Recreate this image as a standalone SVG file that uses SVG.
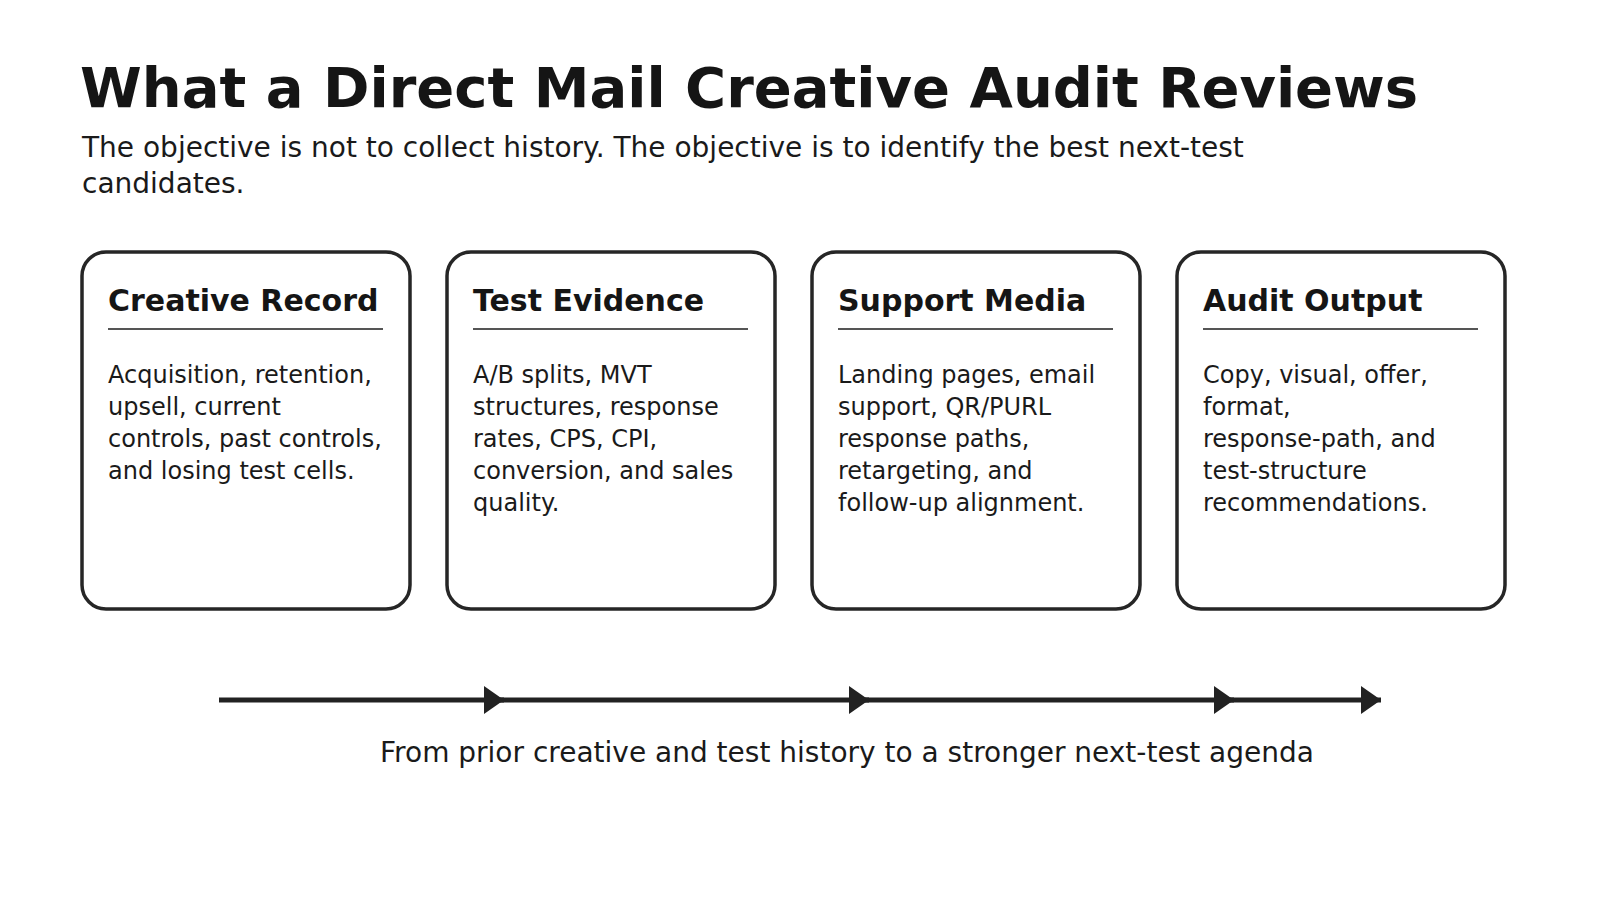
<svg xmlns="http://www.w3.org/2000/svg" width="1600" height="900" viewBox="0 0 1600 900">
<defs>
<style>
.title{font-family:"DejaVu Sans",sans-serif;font-weight:bold;font-size:56px;fill:#151515}
.sub{font-family:"DejaVu Sans",sans-serif;font-size:28px;fill:#1a1a1a}
.card{fill:#fff;stroke:#262626;stroke-width:3.5}
.head{font-family:"DejaVu Sans",sans-serif;font-weight:bold;font-size:30px;fill:#151515}
.rule{stroke:#555;stroke-width:2}
.body{font-family:"DejaVu Sans",sans-serif;font-size:24px;fill:#1a1a1a}
.conn{stroke:#222;stroke-width:5;fill:none}
.label{font-family:"DejaVu Sans",sans-serif;font-size:28px;fill:#1a1a1a}
</style>
<marker id="arr" viewBox="0 0 20 28" refX="20" refY="14" markerWidth="20" markerHeight="28" markerUnits="userSpaceOnUse" orient="auto">
<path d="M0,0 L20,14 L0,28 Z" fill="#222"/>
</marker>
</defs>
<rect width="1600" height="900" fill="#fff"/>
<text class="title" x="80" y="107">What a Direct Mail Creative Audit Reviews</text>
<text class="sub" x="82" y="157">The objective is not to collect history. The objective is to identify the best next-test</text>
<text class="sub" x="82" y="193">candidates.</text>

<g id="creative-record">
<rect class="card" x="82" y="252" width="328" height="357" rx="24"/>
<text class="head" x="108" y="311">Creative Record</text>
<line class="rule" x1="108" y1="329" x2="383" y2="329"/>
<text class="body" x="108" y="383"><tspan x="108">Acquisition, retention,</tspan><tspan x="108" dy="32">upsell, current</tspan><tspan x="108" dy="32">controls, past controls,</tspan><tspan x="108" dy="32">and losing test cells.</tspan></text>
</g>
<g id="test-evidence">
<rect class="card" x="447" y="252" width="328" height="357" rx="24"/>
<text class="head" x="473" y="311">Test Evidence</text>
<line class="rule" x1="473" y1="329" x2="748" y2="329"/>
<text class="body" x="473" y="383"><tspan x="473">A/B splits, MVT</tspan><tspan x="473" dy="32">structures, response</tspan><tspan x="473" dy="32">rates, CPS, CPI,</tspan><tspan x="473" dy="32">conversion, and sales</tspan><tspan x="473" dy="32">quality.</tspan></text>
</g>
<g id="support-media">
<rect class="card" x="812" y="252" width="328" height="357" rx="24"/>
<text class="head" x="838" y="311">Support Media</text>
<line class="rule" x1="838" y1="329" x2="1113" y2="329"/>
<text class="body" x="838" y="383"><tspan x="838">Landing pages, email</tspan><tspan x="838" dy="32">support, QR/PURL</tspan><tspan x="838" dy="32">response paths,</tspan><tspan x="838" dy="32">retargeting, and</tspan><tspan x="838" dy="32">follow-up alignment.</tspan></text>
</g>
<g id="audit-output">
<rect class="card" x="1177" y="252" width="328" height="357" rx="24"/>
<text class="head" x="1203" y="311">Audit Output</text>
<line class="rule" x1="1203" y1="329" x2="1478" y2="329"/>
<text class="body" x="1203" y="383"><tspan x="1203">Copy, visual, offer,</tspan><tspan x="1203" dy="32">format,</tspan><tspan x="1203" dy="32">response-path, and</tspan><tspan x="1203" dy="32">test-structure</tspan><tspan x="1203" dy="32">recommendations.</tspan></text>
</g>

<g id="connectors">
<line class="conn" x1="219" y1="700" x2="504" y2="700" marker-end="url(#arr)"/>
<line class="conn" x1="500" y1="700" x2="869" y2="700" marker-end="url(#arr)"/>
<line class="conn" x1="865" y1="700" x2="1234" y2="700" marker-end="url(#arr)"/>
<line class="conn" x1="1230" y1="700" x2="1381" y2="700" marker-end="url(#arr)"/>
</g>
<text class="label" x="847" y="762" text-anchor="middle">From prior creative and test history to a stronger next-test agenda</text>
</svg>
